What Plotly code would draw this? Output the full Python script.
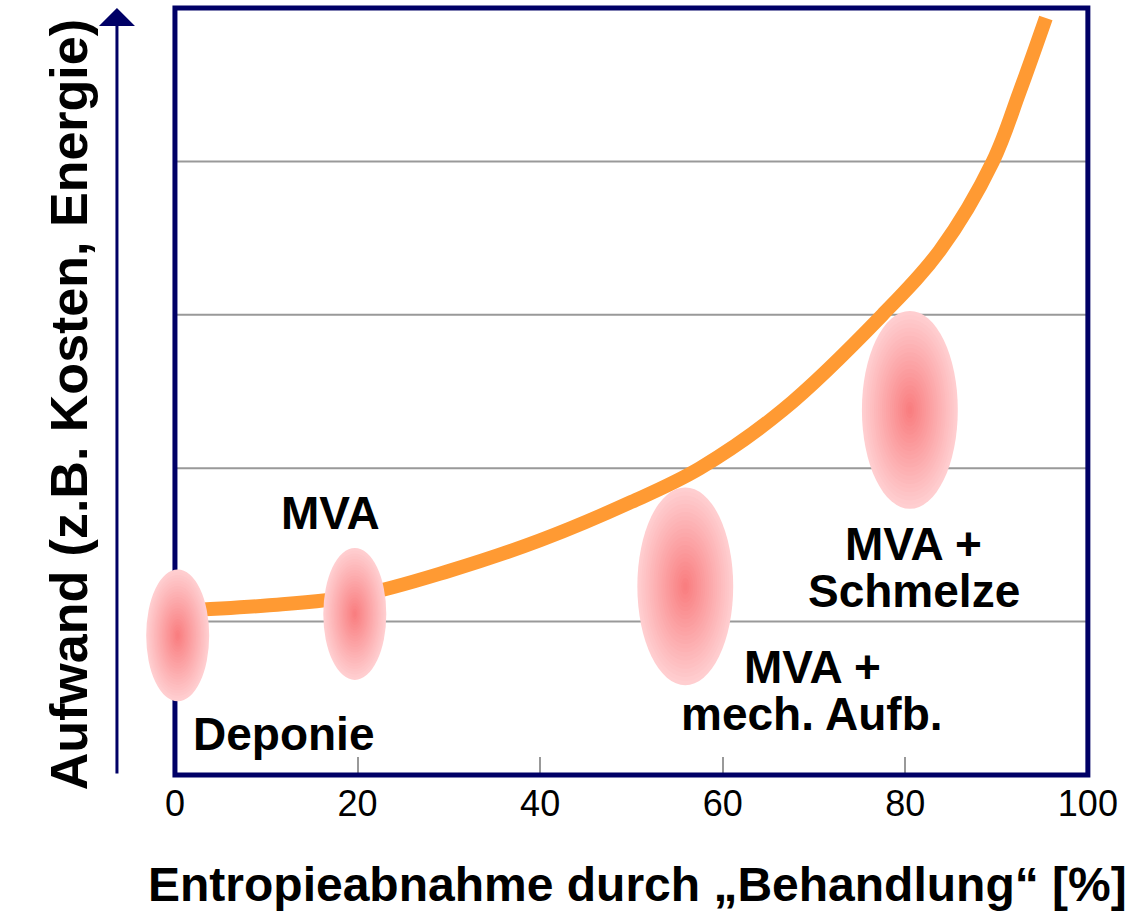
import plotly.graph_objects as go

# Aufwand-Kurve
entropy_pct = [0, 10, 20, 30, 40, 50, 57.5, 66.6, 77.5, 83.8, 89.6, 92.5, 95.4]
effort = [1.07, 1.105, 1.17, 1.33, 1.53, 1.78, 2.0, 2.38, 3.0, 3.42, 4.0, 4.45, 4.935]

# Verfahren: Lage der Ellipsen
process_names = ["Deponie", "MVA", "MVA + mech. Aufb.", "MVA + Schmelze"]
process_x = [0.3, 19.7, 55.9, 80.5]
process_y = [0.91, 1.05, 1.23, 2.38]
process_big = [False, False, True, True]

# Beschriftungen
label_lines = [["Deponie"], ["MVA"], ["MVA +", "mech. Aufb."], ["MVA +", "Schmelze"]]
label_x = [11.9, 17.0, 69.8, 80.9]
label_y = [0.27, 1.71, 0.55, 1.35]

x_ticks = [0, 20, 40, 60, 80, 100]
grid_y = [1, 2, 3, 4]

NAVY = "#000066"
ORANGE = "#FF9A33"
PINK_EDGE = (255, 206, 208)
PINK_CENTER = (249, 126, 128)
FONT = "Liberation Sans, Arial"


def mix(c1, c2, t):
    return "rgb(%d,%d,%d)" % tuple(round(a + (b - a) * t) for a, b in zip(c1, c2))


fig = go.Figure()

# Gitterlinien nur innerhalb des Rahmens
for gy in grid_y:
    fig.add_shape(
        type="line", xref="x", yref="y", x0=0, x1=100, y0=gy, y1=gy,
        line=dict(color="#999999", width=2), layer="below",
    )

fig.add_trace(
    go.Scatter(
        x=entropy_pct,
        y=effort,
        mode="lines",
        line=dict(color=ORANGE, width=14, shape="spline", smoothing=1.0),
        hoverinfo="skip",
        showlegend=False,
    )
)

# Rahmen
fig.add_shape(
    type="rect", xref="x", yref="paper", x0=0, x1=100, y0=0, y1=1,
    line=dict(color=NAVY, width=5),
)

# Ellipsen mit radialem Verlauf (gestufte Näherung)
steps = 24
for px, py, big in zip(process_x, process_y, process_big):
    rx, ry = (5.25, 0.645) if big else (3.45, 0.43)
    for i in range(steps):
        s = 1 - i / steps
        fig.add_shape(
            type="circle", xref="x", yref="y",
            x0=px - rx * s, x1=px + rx * s, y0=py - ry * s, y1=py + ry * s,
            line=dict(width=0), fillcolor=mix(PINK_EDGE, PINK_CENTER, i / (steps - 1)),
        )

for lines, lx, ly in zip(label_lines, label_x, label_y):
    n = len(lines)
    for k, txt in enumerate(lines):
        fig.add_annotation(
            x=lx, y=ly, xref="x", yref="y", text="<b>%s</b>" % txt, showarrow=False,
            yshift=(n - 1) * 23.5 - k * 47,
            font=dict(family=FONT, size=46, color="black"),
        )

# Pfeil der Aufwand-Achse
fig.add_annotation(
    x=-0.0273, y=1.0, xref="x domain", yref="y domain",
    ax=-0.0273, ay=0.0, axref="x domain", ayref="y domain",
    showarrow=True, arrowhead=1, arrowsize=2, arrowwidth=3, arrowcolor=NAVY, text="",
)

fig.add_annotation(
    x=-0.11, y=0.482, xref="paper", yref="paper", textangle=-90, showarrow=False,
    text="<b>Aufwand (z.B. Kosten, Energie)</b>",
    font=dict(family=FONT, size=52, color="black"),
)
fig.add_annotation(
    x=0.518, y=-0.1434, xref="paper", yref="paper", yanchor="middle", showarrow=False,
    text="<b>Entropieabnahme durch „Behandlung“ [%]</b>",
    font=dict(family=FONT, size=48, color="black"),
)

fig.update_layout(
    width=1128, height=921,
    margin=dict(l=143, r=31, t=8, b=146, autoexpand=False),
    plot_bgcolor="white", paper_bgcolor="white",
    showlegend=False,
    xaxis=dict(
        range=[-3.5, 101], tickvals=x_ticks, ticks="inside", ticklen=18, tickwidth=2,
        tickcolor="#999999", showgrid=False, zeroline=False, showline=False,
        tickfont=dict(family=FONT, size=36, color="black"),
        ticklabelstandoff=4,
    ),
    yaxis=dict(
        range=[0, 5], showticklabels=False, showgrid=False,
        zeroline=False, showline=False,
    ),
)

fig.write_html(
    "out.html",
    config={"displayModeBar": False},
    post_script="document.body.style.margin = '0';",
)
